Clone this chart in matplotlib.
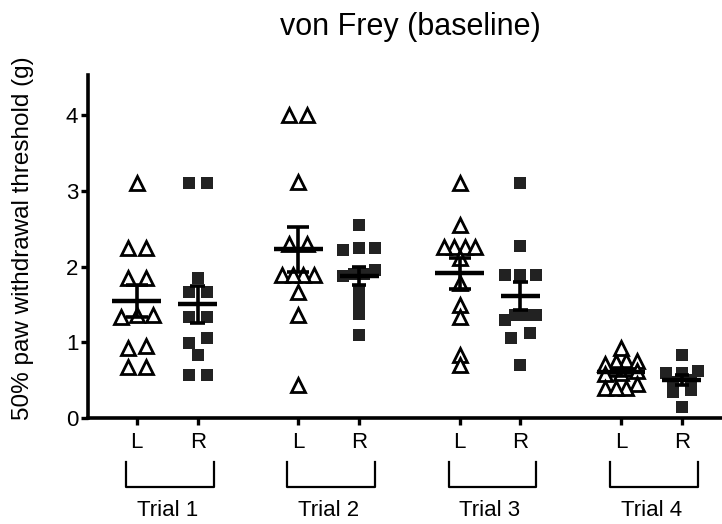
#!/usr/bin/env python3
import numpy as np
import matplotlib

matplotlib.use("Agg")
import matplotlib.pyplot as plt
from matplotlib.transforms import blended_transform_factory


TITLE = "von Frey (baseline)"
Y_LABEL = "50% paw withdrawal threshold (g)"
TRIALS = ["Trial 1", "Trial 2", "Trial 3", "Trial 4"]
SIDES = ["L", "R"]

# paw withdrawal thresholds (g)
left_t1 = [3.10, 2.24, 2.24, 1.85, 1.85, 1.36, 1.33, 1.36, 0.95, 0.92, 0.67, 0.67]
right_t1 = [3.10, 3.10, 1.85, 1.66, 1.66, 1.33, 1.33, 1.06, 0.99, 0.83, 0.57, 0.57]
left_t2 = [4.00, 4.00, 3.12, 2.30, 2.30, 1.89, 1.89, 1.89, 1.89, 1.67, 1.36, 0.44]
right_t2 = [2.55, 2.25, 2.22, 2.25, 1.95, 1.90, 1.88, 1.90, 1.66, 1.52, 1.37, 1.10]
left_t3 = [3.10, 2.55, 2.26, 2.26, 2.26, 2.26, 2.12, 1.78, 1.49, 1.34, 0.83, 0.70]
right_t3 = [3.11, 2.27, 1.89, 1.89, 1.89, 1.36, 1.36, 1.36, 1.30, 1.12, 1.06, 0.70]
left_t4 = [0.92, 0.75, 0.74, 0.72, 0.75, 0.62, 0.60, 0.58, 0.45, 0.40, 0.40, 0.40]
right_t4 = [0.83, 0.62, 0.60, 0.60, 0.50, 0.48, 0.37, 0.35, 0.15]

LEFT = [left_t1, left_t2, left_t3, left_t4]
RIGHT = [right_t1, right_t2, right_t3, right_t4]

GROUP_STEP = 2.65
FONT = "Liberation Sans"


def swarm_offsets(values, tol=0.12):
    # spread points with similar values side by side, like a column scatter
    vals = np.asarray(values, dtype=float)
    order = np.argsort(vals)
    offsets = np.zeros(len(vals))
    i = 0
    while i < len(order):
        j = i
        while j + 1 < len(order) and vals[order[j + 1]] - vals[order[i]] < tol:
            j += 1
        k = j - i + 1
        if k == 2:
            offs = [-0.15, 0.15]
        elif k > 2:
            offs = np.linspace(-0.26, 0.26, k)
        else:
            offs = [0.0]
        for n, idx in enumerate(order[i:j + 1]):
            offsets[idx] = offs[n]
        i = j + 1
    return offsets


def mean_sem(ax, x, values, half, cap):
    vals = np.asarray(values, dtype=float)
    m = vals.mean()
    sem = vals.std(ddof=1) / np.sqrt(len(vals))
    ax.hlines(m, x - half, x + half, color="black", linewidth=3.2, zorder=4)
    ax.vlines(x, m - sem, m + sem, color="black", linewidth=2.6, zorder=4)
    ax.hlines([m - sem, m + sem], x - cap, x + cap, color="black", linewidth=2.6, zorder=4)


def main():
    plt.rcParams["font.family"] = [FONT, "DejaVu Sans"]
    fig = plt.figure(figsize=(7.22, 5.24), dpi=100)
    ax = fig.add_axes([0.122, 0.202, 0.878, 0.655])

    xticks, xlabels = [], []
    for g in range(4):
        xl = g * GROUP_STEP
        xr = xl + 1
        lv, rv = LEFT[g], RIGHT[g]
        ax.plot(xl + swarm_offsets(lv), lv, linestyle="none", marker="^",
                markersize=10.5, markerfacecolor="white", markeredgecolor="black",
                markeredgewidth=2.0, zorder=3)
        ax.plot(xr + swarm_offsets(rv), rv, linestyle="none", marker="s",
                markersize=8.5, markerfacecolor="#222222", markeredgecolor="#222222",
                markeredgewidth=0, zorder=3)
        mean_sem(ax, xl, lv, 0.40, 0.18)
        mean_sem(ax, xr, rv, 0.32, 0.12)
        xticks += [xl, xr]
        xlabels += SIDES

    ax.set_xlim(-0.8, 3 * GROUP_STEP + 1 + 0.66)
    ax.set_ylim(0, 4.53)
    ax.set_yticks([0, 1, 2, 3, 4])
    ax.set_xticks(xticks, xlabels)

    for side in ["top", "right"]:
        ax.spines[side].set_visible(False)
    for side in ["left", "bottom"]:
        ax.spines[side].set_linewidth(2.6)
    ax.tick_params(axis="both", width=2.4, length=5, labelsize=16, direction="out")
    ax.tick_params(axis="x", pad=5)
    ax.tick_params(axis="y", pad=2)

    # trial brackets under the L/R labels
    trans = blended_transform_factory(ax.transData, fig.transFigure)
    y_top = 1 - 462 / 524
    y_bot = 1 - 487 / 524
    for g, name in enumerate(TRIALS):
        x0 = g * GROUP_STEP - 0.18
        x1 = g * GROUP_STEP + 1.26
        ax.plot([x0, x0, x1, x1], [y_top, y_bot, y_bot, y_top], transform=trans,
                color="black", linewidth=1.6, clip_on=False)
        ax.text(g * GROUP_STEP + 0.5, 1 - 510 / 524, name, transform=trans,
                ha="center", va="center", fontsize=16)

    fig.text(0.568, 0.948, TITLE, ha="center", va="center", fontsize=22)
    fig.text(0.032, 0.545, Y_LABEL, ha="center", va="center", rotation=90, fontsize=17.5)

    fig.savefig("out.png", dpi=100)


if __name__ == "__main__":
    main()
